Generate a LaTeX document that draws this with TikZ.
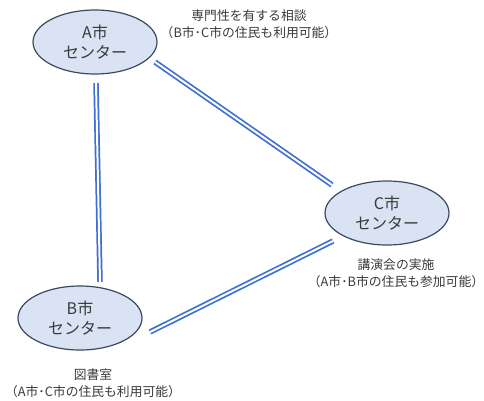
\documentclass[tikz,border=0pt]{standalone}
\usepackage{fontspec}
\setmainfont{Noto Sans CJK JP}
\newfontfamily\jp{Noto Sans CJK JP}
\usetikzlibrary{shapes.geometric}
\definecolor{txt}{HTML}{3A3A3A}
\definecolor{efill}{HTML}{DAE3F3}
\definecolor{edraw}{HTML}{3B4A60}
\definecolor{lnk}{HTML}{3F6FCF}
\tikzset{
  center/.style={ellipse, draw=edraw, fill=efill, line width=0.9pt, minimum width=93pt, minimum height=48pt, inner sep=0pt, align=center, font=\jp\fontsize{12}{15.5}\selectfont, text=txt},
  lab/.style={align=center, font=\jp\fontsize{9.6}{12.8}\selectfont, text=txt, inner sep=0pt},
  link/.style={draw=lnk, line width=1.3pt, double=white, double distance=1.5pt}
}
\begin{document}
\begin{tikzpicture}[x=0.75pt,y=-0.75pt]
\useasboundingbox (0,0) rectangle (484,400);
\node[center] (A) at (95,42) {A市\\センター};
\node[center] (C) at (387,213) {C市\\センター};
\node[center] (B) at (80,318) {B市\\センター};
\node[lab] (la) at (249,24) {専門性を有する相談\\（B市･C市の住民も利用可能）};
\node[lab] (lc) at (396,273) {講演会の実施\\（A市･B市の住民も参加可能）};
\node[lab] (lb) at (93,383) {図書室\\（A市･C市の住民も利用可能）};
\coordinate (ab1) at (96,83);
\coordinate (ab2) at (100,282);
\coordinate (ac1) at (155,62);
\coordinate (ac2) at (332,185);
\coordinate (bc1) at (150,332);
\coordinate (bc2) at (333,241);
\draw[link] (ab1) -- (ab2);
\draw[link] (ac1) -- (ac2);
\draw[link] (bc1) -- (bc2);
\end{tikzpicture}
\end{document}
